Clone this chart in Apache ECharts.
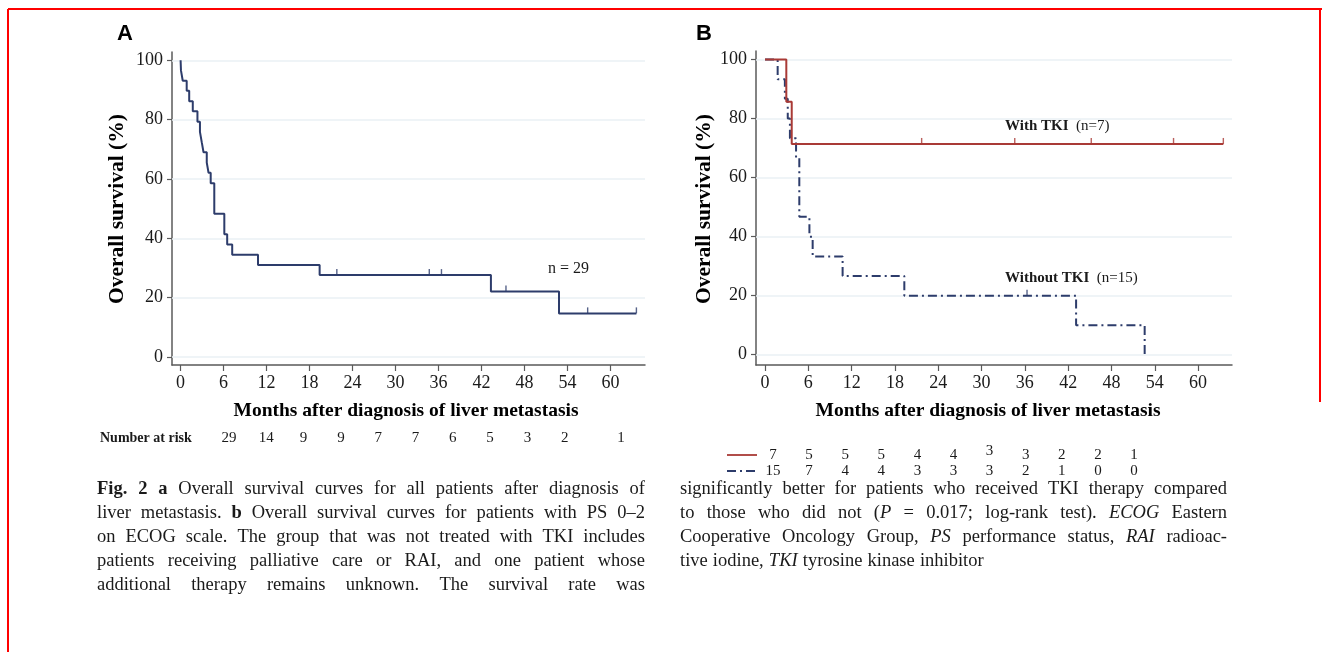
<!DOCTYPE html>
<html>
<head>
<meta charset="utf-8">
<script src="https://cdn.jsdelivr.net/npm/echarts@6/dist/echarts.min.js"></script>
<style>
  html, body { margin: 0; padding: 0; background: #fff; }
  #chart { width: 1322px; height: 652px; }
</style>
</head>
<body>
<div id="chart"></div>
<script>
// ticks
const monthTicks = [0, 6, 12, 18, 24, 30, 36, 42, 48, 54, 60];
const survTicks = [0, 20, 40, 60, 80, 100];

// panel A: all patients (event time in months, survival % after the event)
const allTime = [0, 0.05, 0.3, 0.85, 1.2, 1.7, 2.35, 2.7, 2.95, 3.2, 3.65, 3.9, 4.2, 4.7, 6.1, 6.5, 7.2, 10.8, 19.4, 43.3, 52.8, 63.6];
const allSurv = [100, 96.6, 93.1, 89.7, 86.2, 82.8, 79.3, 75.9, 72.4, 69.0, 65.5, 62.1, 58.6, 48.3, 41.4, 37.9, 34.5, 31.0, 27.6, 22.1, 14.7, 14.7];
const allCensTime = [21.8, 34.7, 36.4, 45.4, 56.8, 63.6];
const allCensSurv = [27.6, 27.6, 27.6, 22.1, 14.7, 14.7];
const riskAll = [29, 14, 9, 9, 7, 7, 6, 5, 3, 2, 1];

// panel B: with / without TKI
const tkiTime = [0, 2.95, 3.7, 63.5];
const tkiSurv = [100, 85.7, 71.4, 71.4];
const tkiCensTime = [21.7, 34.6, 45.2, 56.6, 63.5];
const tkiCensSurv = [71.4, 71.4, 71.4, 71.4, 71.4];
const noTkiTime = [0, 1.75, 2.75, 3.15, 3.45, 4.3, 4.75, 6.15, 6.6, 10.75, 19.3, 43.1, 52.6];
const noTkiSurv = [100, 93.3, 86.7, 80.0, 73.3, 66.7, 46.7, 40.0, 33.3, 26.7, 20.0, 10.0, 0];
const noTkiCensTime = [36.3];
const noTkiCensSurv = [20.0];
const riskTki = [7, 5, 5, 5, 4, 4, 3, 3, 2, 2, 1];
const riskNoTki = [15, 7, 4, 4, 3, 3, 3, 2, 1, 0, 0];

const captionLeft = [
  '{b|Fig.} {b|2} {b|a} Overall survival curves for all patients after diagnosis of',
  'liver metastasis. {b|b} Overall survival curves for patients with PS 0\u20132',
  'on ECOG scale. The group that was not treated with TKI includes',
  'patients receiving palliative care or RAI, and one patient whose',
  'additional therapy remains unknown. The survival rate was'
];
const captionRight = [
  'significantly better for patients who received TKI therapy compared',
  'to those who did not ({i|P} = 0.017; log-rank test). {i|ECOG} Eastern',
  'Cooperative Oncology Group, {i|PS} performance status, {i|RAI} radioac-',
  'tive iodine, {i|TKI} tyrosine kinase inhibitor'
];

const SERIF = '"Liberation Serif", "Times New Roman", serif';
const NAVY = '#2d3c6b';
const RED = '#a93a36';
const AXIS = '#5a5a5a';
const GRID = '#eaf1f4';

const chart = echarts.init(document.getElementById('chart'));

function xAxisOf(i, min, max) {
  return {
    gridIndex: i, type: 'value', min: min, max: max,
    axisLine: { onZero: false, lineStyle: { color: AXIS, width: 1.5 } },
    axisTick: { customValues: monthTicks, length: 6, lineStyle: { color: AXIS, width: 1.2 } },
    axisLabel: { customValues: monthTicks, margin: 9, color: '#1a1a1a', fontFamily: SERIF, fontSize: 18 },
    splitLine: { show: false }
  };
}
function yAxisOf(i, min, max) {
  return {
    gridIndex: i, type: 'value', min: min, max: max,
    axisLine: { show: true, onZero: false, lineStyle: { color: AXIS, width: 1.5 } },
    axisTick: { show: true, customValues: survTicks, length: 5, lineStyle: { color: AXIS, width: 1.2 } },
    axisLabel: { customValues: survTicks, margin: 9, color: '#1a1a1a', fontFamily: SERIF, fontSize: 18 },
    splitLine: { show: false }
  };
}
function gridLines(i) {
  return {
    type: 'line', xAxisIndex: i, yAxisIndex: i, data: [], z: 1, silent: true,
    markLine: {
      z: 1, silent: true, symbol: 'none', label: { show: false }, animation: false,
      lineStyle: { color: GRID, width: 1.5, type: 'solid' },
      data: survTicks.map(v => ({ yAxis: v }))
    }
  };
}
function km(i, t, s, color, dash) {
  return {
    type: 'line', xAxisIndex: i, yAxisIndex: i, step: 'end', symbol: 'none', z: 3, silent: true,
    lineStyle: { color: color, width: 2, type: dash || 'solid' },
    data: t.map((x, k) => [x, s[k]])
  };
}
function censor(i, t, s, color) {
  return {
    type: 'scatter', xAxisIndex: i, yAxisIndex: i, symbol: 'rect', z: 4, silent: true,
    symbolSize: [1.4, 6], symbolOffset: [0, -3], itemStyle: { color: color },
    data: t.map((x, k) => [x, s[k]])
  };
}

// caption layout (justified lines)
const ctx = document.createElement('canvas').getContext('2d');
const CAP_SIZE = 18.5;
function segs(word) {
  const out = [];
  const re = /\{(\w)\|([^}]*)\}|([^{]+)/g;
  let m;
  while ((m = re.exec(word))) {
    if (m[3]) out.push({ t: m[3], s: '' });
    else out.push({ t: m[2], s: m[1] });
  }
  return out;
}
function wordWidth(word) {
  return segs(word).reduce((w, g) => {
    ctx.font = (g.s === 'i' ? 'italic ' : '') + (g.s === 'b' ? 'bold ' : '') + CAP_SIZE + 'px ' + SERIF;
    return w + ctx.measureText(g.t).width;
  }, 0);
}
const richCap = {
  b: { fontWeight: 'bold', fontFamily: SERIF, fontSize: CAP_SIZE, fill: '#1a1a1a' },
  i: { fontStyle: 'italic', fontFamily: SERIF, fontSize: CAP_SIZE, fill: '#1a1a1a' }
};
function captionBlock(lines, x0, x1, y0, dy, lastJustified) {
  const els = [];
  lines.forEach((line, li) => {
    const words = line.split(' ');
    const widths = words.map(wordWidth);
    const total = widths.reduce((a, b) => a + b, 0);
    const justify = li < lines.length - 1 || lastJustified;
    const gap = justify ? (x1 - x0 - total) / (words.length - 1) : wordWidth(' ') + 0.5;
    let x = x0;
    words.forEach((w, k) => {
      els.push({
        type: 'text', x: x, y: y0 + li * dy, silent: true,
        style: {
          text: w, rich: richCap, fill: '#1a1a1a',
          fontFamily: SERIF, fontSize: CAP_SIZE, align: 'left', verticalAlign: 'middle'
        }
      });
      x += widths[k] + gap;
    });
  });
  return els;
}

function txt(x, y, text, opt) {
  return {
    type: 'text', x: x, y: y, silent: true, rotation: opt.rotation || 0,
    style: Object.assign({
      text: text, fill: '#1a1a1a', fontFamily: SERIF, fontSize: 16,
      align: 'center', verticalAlign: 'middle'
    }, opt.style || {})
  };
}

const graphics = [];
// frame
graphics.push({ type: 'line', silent: true, shape: { x1: 8, y1: 9, x2: 1322, y2: 9 }, style: { stroke: '#ff0000', lineWidth: 2 } });
graphics.push({ type: 'line', silent: true, shape: { x1: 8, y1: 9, x2: 8, y2: 652 }, style: { stroke: '#ff0000', lineWidth: 2 } });
graphics.push({ type: 'line', silent: true, shape: { x1: 1320, y1: 9, x2: 1320, y2: 402 }, style: { stroke: '#ff0000', lineWidth: 2 } });

// panel letters
graphics.push(txt(125, 34, 'A', { style: { fontFamily: '"Liberation Sans", Arial, sans-serif', fontWeight: 'bold', fontSize: 22, fill: '#000' } }));
graphics.push(txt(704, 34, 'B', { style: { fontFamily: '"Liberation Sans", Arial, sans-serif', fontWeight: 'bold', fontSize: 22, fill: '#000' } }));

// axis titles
const yTitleStyle = { fontWeight: 'bold', fontSize: 21.5, fill: '#000' };
const xTitleStyle = { fontWeight: 'bold', fontSize: 19.5, fill: '#000' };
graphics.push(txt(117, 209, 'Overall survival (%)', { rotation: Math.PI / 2, style: yTitleStyle }));
graphics.push(txt(704, 209, 'Overall survival (%)', { rotation: Math.PI / 2, style: yTitleStyle }));
graphics.push(txt(406, 411, 'Months after diagnosis of liver metastasis', { style: xTitleStyle }));
graphics.push(txt(988, 411, 'Months after diagnosis of liver metastasis', { style: xTitleStyle }));

// in-plot labels
graphics.push(txt(548, 269, 'n = 29', { style: { align: 'left', fontSize: 16 } }));
graphics.push({
  type: 'text', x: 1005, y: 126, silent: true,
  style: {
    text: '{b|With TKI}  (n=7)', fill: '#1a1a1a', fontFamily: SERIF, fontSize: 15, verticalAlign: 'middle',
    rich: { b: { fontWeight: 'bold', fontFamily: SERIF, fontSize: 15, fill: '#1a1a1a' } }
  }
});
graphics.push({
  type: 'text', x: 1005, y: 278, silent: true,
  style: {
    text: '{b|Without TKI}  (n=15)', fill: '#1a1a1a', fontFamily: SERIF, fontSize: 15, verticalAlign: 'middle',
    rich: { b: { fontWeight: 'bold', fontFamily: SERIF, fontSize: 15, fill: '#1a1a1a' } }
  }
});

// number at risk, panel A
graphics.push(txt(100, 438, 'Number at risk', { style: { align: 'left', fontWeight: 'bold', fontSize: 14 } }));
riskAll.forEach((v, k) => {
  const x = k < riskAll.length - 1 ? 229 + k * 37.3 : 621;
  graphics.push(txt(x, 438, String(v), { style: { fontSize: 15 } }));
});
// number at risk, panel B
graphics.push({ type: 'line', silent: true, shape: { x1: 727, y1: 455, x2: 757, y2: 455 }, style: { stroke: RED, lineWidth: 1.8 } });
graphics.push({ type: 'line', silent: true, shape: { x1: 727, y1: 471, x2: 757, y2: 471 }, style: { stroke: NAVY, lineWidth: 1.8, lineDash: [9, 4, 2, 4] } });
riskTki.forEach((v, k) => {
  graphics.push(txt(773 + k * 36.1, k === 6 ? 451 : 455, String(v), { style: { fontSize: 15 } }));
});
riskNoTki.forEach((v, k) => {
  graphics.push(txt(773 + k * 36.1, 471, String(v), { style: { fontSize: 15 } }));
});

// caption
captionBlock(captionLeft, 97, 645, 489, 24, true).forEach(e => graphics.push(e));
captionBlock(captionRight, 680, 1227, 489, 24, false).forEach(e => graphics.push(e));

const option = {
  animation: false,
  backgroundColor: '#fff',
  grid: [
    { left: 172, top: 52, width: 473, height: 313 },
    { left: 756, top: 51, width: 476, height: 314 }
  ],
  xAxis: [xAxisOf(0, -1.2, 64.8), xAxisOf(1, -1.25, 64.7)],
  yAxis: [yAxisOf(0, -2.7, 102.8), yAxisOf(1, -3.5, 102.9)],
  series: [
    gridLines(0),
    gridLines(1),
    km(0, allTime, allSurv, NAVY),
    censor(0, allCensTime, allCensSurv, NAVY),
    km(1, noTkiTime, noTkiSurv, NAVY, [9, 4, 2, 4]),
    censor(1, noTkiCensTime, noTkiCensSurv, NAVY),
    km(1, tkiTime, tkiSurv, RED),
    censor(1, tkiCensTime, tkiCensSurv, RED)
  ],
  graphic: graphics
};
chart.setOption(option);
</script>
</body>
</html>
